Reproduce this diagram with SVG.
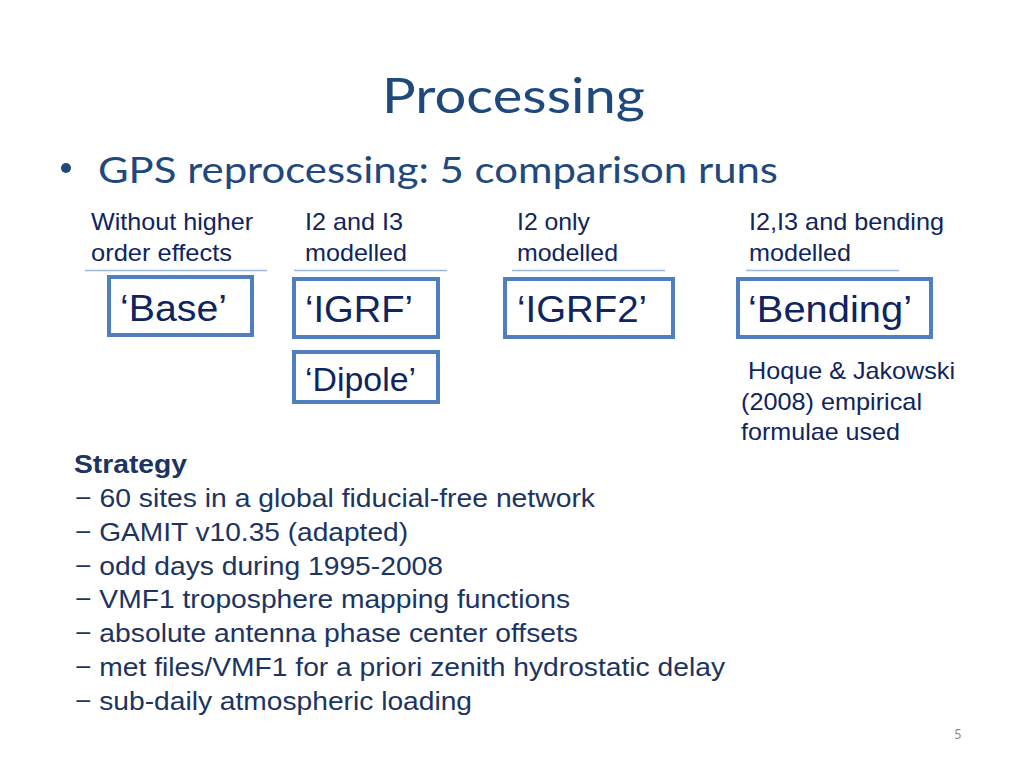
<svg xmlns="http://www.w3.org/2000/svg" width="1024" height="768" viewBox="0 0 1024 768">
<style>
.title{font-family:Lato,"Open Sans","Liberation Sans",sans-serif;fill:#1F497D}
.hdr{font-family:"Liberation Sans",Arial,sans-serif;font-size:24px;fill:#0F2460}
.lbl{font-family:"Liberation Sans",Arial,sans-serif;fill:#0F2460}
.st{font-family:"Liberation Sans",Arial,sans-serif;font-size:26px;fill:#1C3461}
.box{fill:#FFFFFF;stroke:#4F7FBE;stroke-width:4}
.sep{stroke:#9DB7D8;stroke-width:1.5}
</style>
<rect width="1024" height="768" fill="#FFFFFF"/>
<text class="title" x="382" y="113" font-size="48" textLength="263" lengthAdjust="spacingAndGlyphs">Processing</text>
<circle cx="66" cy="168" r="5" fill="#1F497D"/>
<text class="title" x="98" y="183" font-size="37" textLength="680" lengthAdjust="spacingAndGlyphs">GPS reprocessing: 5 comparison runs</text>

<g id="connectors">
<line class="sep" x1="85" y1="270.5" x2="267" y2="270.5"/>
<line class="sep" x1="294" y1="270.5" x2="447" y2="270.5"/>
<line class="sep" x1="512" y1="270.5" x2="665" y2="270.5"/>
<line class="sep" x1="746" y1="270.5" x2="899" y2="270.5"/>
</g>

<g id="hdr-base">
<text class="hdr" x="91" y="230" textLength="162" lengthAdjust="spacingAndGlyphs">Without higher</text>
<text class="hdr" x="91" y="261" textLength="141" lengthAdjust="spacingAndGlyphs">order effects</text>
</g>
<g id="hdr-igrf">
<text class="hdr" x="305" y="230" textLength="98" lengthAdjust="spacingAndGlyphs">I2 and I3</text>
<text class="hdr" x="305" y="261" textLength="102" lengthAdjust="spacingAndGlyphs">modelled</text>
</g>
<g id="hdr-igrf2">
<text class="hdr" x="517" y="230" textLength="73" lengthAdjust="spacingAndGlyphs">I2 only</text>
<text class="hdr" x="517" y="261" textLength="101" lengthAdjust="spacingAndGlyphs">modelled</text>
</g>
<g id="hdr-bending">
<text class="hdr" x="749" y="230" textLength="195" lengthAdjust="spacingAndGlyphs">I2,I3 and bending</text>
<text class="hdr" x="749" y="261" textLength="102" lengthAdjust="spacingAndGlyphs">modelled</text>
</g>

<g id="node-base">
<rect class="box" x="109" y="277" width="143" height="58"/>
<text class="lbl" x="120" y="321" font-size="36" textLength="107" lengthAdjust="spacingAndGlyphs">‘Base’</text>
</g>
<g id="node-igrf">
<rect class="box" x="294" y="279" width="144" height="58" stroke-width="6"/>
<text class="lbl" x="305" y="322" font-size="36" textLength="108" lengthAdjust="spacingAndGlyphs">‘IGRF’</text>
</g>
<g id="node-dipole">
<rect class="box" x="294" y="352" width="144" height="50"/>
<text class="lbl" x="305" y="391" font-size="33" textLength="111" lengthAdjust="spacingAndGlyphs">‘Dipole’</text>
</g>
<g id="node-igrf2">
<rect class="box" x="505" y="279" width="168" height="58"/>
<text class="lbl" x="517" y="322" font-size="36" textLength="130" lengthAdjust="spacingAndGlyphs">‘IGRF2’</text>
</g>
<g id="node-bending">
<rect class="box" x="738" y="279" width="193" height="58"/>
<text class="lbl" x="748" y="322" font-size="36" textLength="164" lengthAdjust="spacingAndGlyphs">‘Bending’</text>
</g>

<g id="note-hoque">
<text class="hdr" x="748" y="379" textLength="207" lengthAdjust="spacingAndGlyphs">Hoque &amp; Jakowski</text>
<text class="hdr" x="741" y="410" textLength="181" lengthAdjust="spacingAndGlyphs">(2008) empirical</text>
<text class="hdr" x="741" y="440" textLength="159" lengthAdjust="spacingAndGlyphs">formulae used</text>
</g>

<g id="strategy">
<text class="st" x="74" y="473" font-weight="bold" textLength="113" lengthAdjust="spacingAndGlyphs">Strategy</text>
<text class="st" x="75" y="507" textLength="520" lengthAdjust="spacingAndGlyphs">− 60 sites in a global fiducial-free network</text>
<text class="st" x="75" y="541" textLength="333" lengthAdjust="spacingAndGlyphs">− GAMIT v10.35 (adapted)</text>
<text class="st" x="75" y="575" textLength="368" lengthAdjust="spacingAndGlyphs">− odd days during 1995-2008</text>
<text class="st" x="75" y="608" textLength="495" lengthAdjust="spacingAndGlyphs">− VMF1 troposphere mapping functions</text>
<text class="st" x="75" y="642" textLength="503" lengthAdjust="spacingAndGlyphs">− absolute antenna phase center offsets</text>
<text class="st" x="75" y="676" textLength="650" lengthAdjust="spacingAndGlyphs">− met files/VMF1 for a priori zenith hydrostatic delay</text>
<text class="st" x="75" y="710" textLength="397" lengthAdjust="spacingAndGlyphs">− sub-daily atmospheric loading</text>
</g>

<text x="954" y="739" font-family="Lato,'Liberation Sans',sans-serif" font-size="13" fill="#8C8C8C">5</text>
</svg>
